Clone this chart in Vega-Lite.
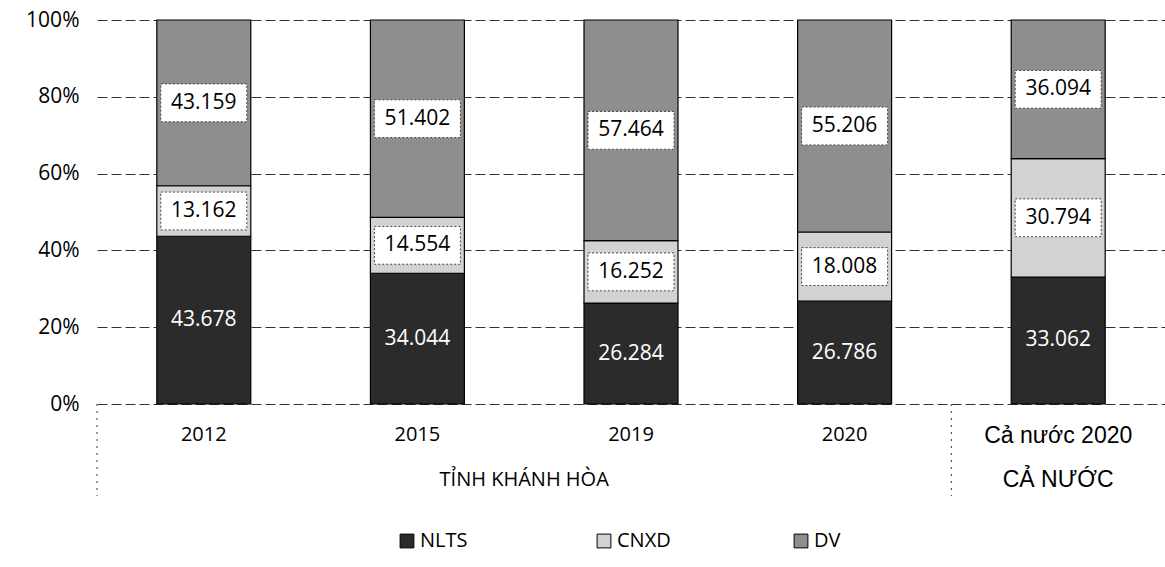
{
  "$schema": "https://vega.github.io/schema/vega-lite/v6.json",
  "width": 1068,
  "height": 384,
  "autosize": {"type": "none"},
  "padding": {"left": 97, "top": 20, "right": 0, "bottom": 163},
  "background": "white",
  "config": {"view": {"stroke": null}, "font": "Open Sans"},
  "datasets": {
    "shares": [
      {"cat": "2012", "series": "NLTS", "k": 1, "value": 43.678},
      {"cat": "2012", "series": "CNXD", "k": 2, "value": 13.162},
      {"cat": "2012", "series": "DV", "k": 3, "value": 43.159},
      {"cat": "2015", "series": "NLTS", "k": 1, "value": 34.044},
      {"cat": "2015", "series": "CNXD", "k": 2, "value": 14.554},
      {"cat": "2015", "series": "DV", "k": 3, "value": 51.402},
      {"cat": "2019", "series": "NLTS", "k": 1, "value": 26.284},
      {"cat": "2019", "series": "CNXD", "k": 2, "value": 16.252},
      {"cat": "2019", "series": "DV", "k": 3, "value": 57.464},
      {"cat": "2020", "series": "NLTS", "k": 1, "value": 26.786},
      {"cat": "2020", "series": "CNXD", "k": 2, "value": 18.008},
      {"cat": "2020", "series": "DV", "k": 3, "value": 55.206},
      {"cat": "Cả nước 2020", "series": "NLTS", "k": 1, "value": 33.062},
      {"cat": "Cả nước 2020", "series": "CNXD", "k": 2, "value": 30.794},
      {"cat": "Cả nước 2020", "series": "DV", "k": 3, "value": 36.094}
    ],
    "groups": [
      {"group": "TỈNH KHÁNH HÒA", "mid": 2},
      {"group": "CẢ NƯỚC", "mid": 4.5}
    ],
    "seps": [{"pos": 0}, {"pos": 4}]
  },
  "layer": [
    {
      "layer": [
        {
          "data": {"name": "shares"},
          "mark": {"type": "bar", "stroke": "black", "strokeWidth": 1.2},
          "encoding": {
            "x": {
              "field": "cat", "type": "nominal",
              "sort": ["2012", "2015", "2019", "2020", "Cả nước 2020"],
              "scale": {"paddingInner": 0.56, "paddingOuter": 0.28},
              "axis": {
                "title": null, "labelAngle": 0, "domain": false, "ticks": false,
                "labelPadding": 20, "labelColor": "black",
                "labelFontSize": {"condition": {"test": "datum.value == 'Cả nước 2020'", "value": 23}, "value": 20},
                "labelFont": {"condition": {"test": "datum.value == 'Cả nước 2020'", "value": "Liberation Sans"}, "value": "Open Sans"}
              }
            },
            "y": {
              "field": "value", "type": "quantitative", "stack": "normalize",
              "scale": {"domain": [0, 1]},
              "axis": {
                "title": null, "format": ".0%", "values": [0, 0.2, 0.4, 0.6, 0.8, 1],
                "domain": false, "ticks": false, "labelFontSize": 21, "labelColor": "black",
                "labelPadding": 18, "gridColor": "#333", "gridDash": [10, 4], "gridWidth": 1
              }
            },
            "color": {
              "field": "series", "type": "nominal",
              "sort": ["NLTS", "CNXD", "DV"],
              "scale": {"domain": ["NLTS", "CNXD", "DV"], "range": ["#2b2b2b", "#d2d2d2", "#8e8e8e"]},
              "legend": {
                "orient": "none", "legendX": 300, "legendY": 511, "direction": "horizontal",
                "columns": 3, "gridAlign": "all", "columnPadding": 120, "padding": 0,
                "title": null, "symbolType": "square", "symbolSize": 190,
                "symbolStrokeColor": "black", "symbolStrokeWidth": 1, "symbolOpacity": 1,
                "labelFontSize": 20, "labelFont": "Open Sans", "labelColor": "black", "labelOffset": 3
              }
            },
            "order": {"field": "k", "type": "quantitative"}
          }
        },
        {
          "data": {"name": "shares"},
          "transform": [
            {"stack": "value", "groupby": ["cat"], "sort": [{"field": "k", "order": "ascending"}], "offset": "normalize", "as": ["y0", "y1"]},
            {"calculate": "(datum.y0 + datum.y1) / 2", "as": "ymid"},
            {"filter": "datum.series != 'NLTS'"}
          ],
          "mark": {"type": "point", "shape": "M-1,-0.44L1,-0.44L1,0.44L-1,0.44Z", "size": 7396, "filled": true, "fill": "white", "opacity": 1, "stroke": "#444", "strokeWidth": 1, "strokeDash": [2, 2]},
          "encoding": {
            "x": {"field": "cat", "type": "nominal", "sort": ["2012", "2015", "2019", "2020", "Cả nước 2020"]},
            "y": {"field": "ymid", "type": "quantitative"}
          }
        },
        {
          "data": {"name": "shares"},
          "transform": [
            {"stack": "value", "groupby": ["cat"], "sort": [{"field": "k", "order": "ascending"}], "offset": "normalize", "as": ["y0", "y1"]},
            {"calculate": "(datum.y0 + datum.y1) / 2", "as": "ymid"}
          ],
          "mark": {"type": "text", "fontSize": 21, "font": "Open Sans", "align": "center", "baseline": "middle"},
          "encoding": {
            "x": {"field": "cat", "type": "nominal", "sort": ["2012", "2015", "2019", "2020", "Cả nước 2020"]},
            "y": {"field": "ymid", "type": "quantitative"},
            "text": {"field": "value", "type": "quantitative", "format": ".3f"},
            "color": {"condition": {"test": "datum.series == 'NLTS'", "value": "white"}, "value": "black"}
          }
        }
      ]
    },
    {
      "layer": [
        {
          "data": {"name": "groups"},
          "mark": {
            "type": "text", "align": "center", "baseline": "middle", "color": "black",
            "y": {"expr": "height + 76"},
            "fontSize": {"expr": "datum.group == 'CẢ NƯỚC' ? 23 : 20"},
            "font": {"expr": "datum.group == 'CẢ NƯỚC' ? 'Liberation Sans' : 'Open Sans'"}
          },
          "encoding": {
            "x": {"field": "mid", "type": "quantitative", "scale": {"domain": [0, 5]}, "axis": null},
            "text": {"field": "group", "type": "nominal"}
          }
        },
        {
          "data": {"name": "seps"},
          "mark": {"type": "rule", "color": "#555", "strokeWidth": 1.2, "strokeDash": [2, 5], "y": {"expr": "height"}, "y2": {"expr": "height + 92"}},
          "encoding": {
            "x": {"field": "pos", "type": "quantitative", "scale": {"domain": [0, 5]}, "axis": null}
          }
        }
      ]
    }
  ],
  "resolve": {"scale": {"x": "independent"}}
}
